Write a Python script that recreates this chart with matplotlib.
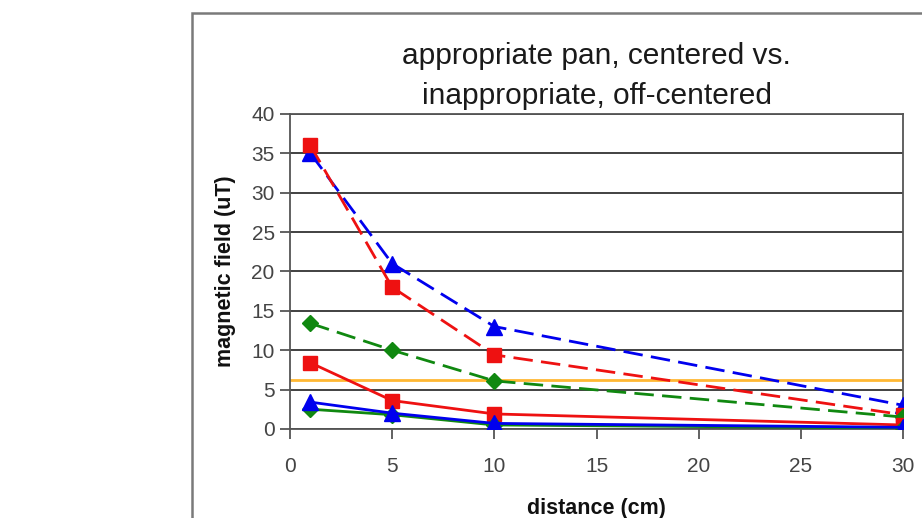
import matplotlib
matplotlib.use("Agg")
import matplotlib.pyplot as plt
from matplotlib.patches import Rectangle

# ── Data ─────────────────────────────────────────────────────────────────────
distance = [1, 5, 10, 30]
blue_dashed = [35, 21, 13, 3]
red_dashed = [36, 18, 9.4, 1.8]
green_dashed = [13.4, 10, 6.1, 1.5]
red_solid = [8.4, 3.6, 1.9, 0.5]
blue_solid = [3.4, 2.0, 0.7, 0.2]
green_solid = [2.5, 1.8, 0.5, 0.1]
limit_x = [0, 30]
limit_y = [6.25, 6.25]

y_ticks = list(range(0, 41, 5))
x_ticks = [0, 5, 10, 15, 20, 25, 30]

plt.rcParams["font.family"] = "Liberation Sans"

fig = plt.figure(figsize=(9.22, 5.18), dpi=100)
fig.patch.set_facecolor("white")

# outer chart frame (Excel-style chart area)
fig.add_artist(Rectangle((0.208, -0.05), 0.9, 1.025, transform=fig.transFigure,
                         fill=False, edgecolor="#7a7a7a", linewidth=1.8))

ax = fig.add_axes([0.3145, 0.172, 0.665, 0.608])

dash = (0, (7, 3))
ax.plot(limit_x, limit_y, color="#FFB833", linewidth=2.0, zorder=2)
ax.plot(distance, blue_dashed, color="#0000EE", linestyle=dash, linewidth=2.0,
        marker="^", markersize=11, zorder=3)
ax.plot(distance, red_dashed, color="#EE1111", linestyle=dash, linewidth=2.0,
        marker="s", markersize=10, zorder=3)
ax.plot(distance, green_dashed, color="#108810", linestyle=dash, linewidth=2.0,
        marker="D", markersize=8, zorder=3)
ax.plot(distance, red_solid, color="#EE1111", linewidth=2.0,
        marker="s", markersize=10, zorder=4)
ax.plot(distance, green_solid, color="#108810", linewidth=2.0,
        marker="D", markersize=8, zorder=4)
ax.plot(distance, blue_solid, color="#0000EE", linewidth=2.0,
        marker="^", markersize=11, zorder=4)

ax.set_xlim(0, 30)
ax.set_ylim(0, 40)
ax.set_xticks(x_ticks)
ax.set_yticks(y_ticks)
ax.yaxis.grid(True, color="#333333", linewidth=1.3)
ax.set_axisbelow(True)

for side in ["left", "bottom", "right", "top"]:
    ax.spines[side].set_color("#555555")
    ax.spines[side].set_linewidth(1.3)

ax.tick_params(axis="both", labelsize=15, labelcolor="#444444", color="#555555",
               length=7, width=1.3)
ax.tick_params(axis="y", pad=4)
ax.tick_params(axis="x", pad=13)

ax.set_xlabel("distance (cm)", fontsize=15.5, fontweight="bold", labelpad=16,
              color="#111111")
ax.set_ylabel("magnetic field (uT)", fontsize=15.5, fontweight="bold", labelpad=11,
              color="#111111")
ax.set_title("appropriate pan, centered vs.\ninappropriate, off-centered",
             fontsize=21.5, linespacing=1.55, pad=7, color="#1a1a1a")

fig.savefig("out.png", dpi=100)
plt.close(fig)
